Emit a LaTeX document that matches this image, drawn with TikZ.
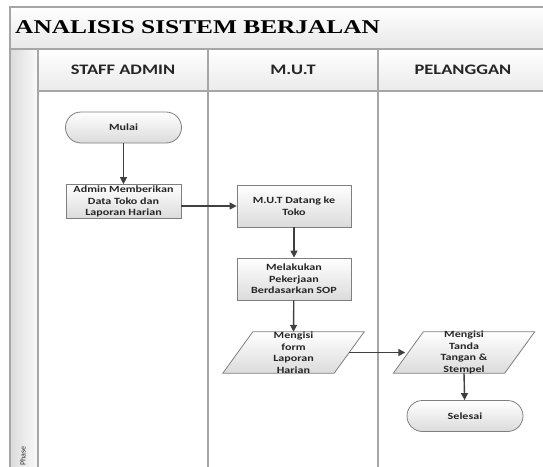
\documentclass[tikz,border=0pt]{standalone}
\usepackage{fontspec}
\newfontfamily\lanefont{Carlito}[FakeStretch=1.27]
\newfontfamily\titlefont{Liberation Serif}[FakeStretch=1.3]
\newfontfamily\phasefont{Carlito}
\usetikzlibrary{arrows.meta,calc}

\definecolor{frameline}{HTML}{A6A6A6}
\definecolor{shapeline}{HTML}{7F7F7F}
\definecolor{flowline}{HTML}{404040}

\tikzset{
  lanehead/.style={font=\lanefont\bfseries\fontsize{14.5}{16}\selectfont, text=black!85},
  boxfont/.style={font=\lanefont\bfseries\fontsize{9.5}{11.6}\selectfont, text=black!85, align=center},
  processbox/.style={boxfont, draw=shapeline, line width=0.8pt, top color=white, bottom color=black!14,
    minimum width=115pt, minimum height=34pt, inner sep=1pt},
  terminal/.style={boxfont, draw=shapeline, line width=0.8pt, top color=white, bottom color=black!14,
    rounded corners=15.5pt, minimum width=116pt, minimum height=31pt, inner sep=1pt},
  ioframe/.style={minimum width=111pt, minimum height=41pt, inner sep=0pt},
  iotext/.style={boxfont, inner sep=0pt},
  ioshape/.style={draw=shapeline, line width=0.8pt, top color=white, bottom color=black!14},
  flow/.style={draw=flowline, line width=1.4pt, -{Triangle[length=7pt,width=7pt]}},
  lanerule/.style={draw=frameline, line width=1.1pt},
}

\begin{document}
\begin{tikzpicture}[x=1pt,y=-1pt]
\useasboundingbox (0,0) rectangle (543,466);
\clip (0,0) rectangle (543,466);

% pool title band, lane header band and phase column
\shade[top color=white, bottom color=black!9] (10,7) rectangle (560,49);
\shade[top color=white, bottom color=black!8] (38,49) rectangle (560,91);
\shade[left color=black!14, right color=black!2] (10,49) rectangle (38,480);

% pool frame and lane dividers
\draw[lanerule] (10,480) -- (10,7) -- (560,7);
\draw[lanerule] (10,49) -- (560,49);
\draw[lanerule] (38,91) -- (560,91);
\draw[lanerule] (38,49) -- (38,480);
\draw[lanerule] (208,49) -- (208,480);
\draw[lanerule] (378,49) -- (378,480);

% titles
\node[anchor=base west, inner sep=0pt, font=\titlefont\bfseries\fontsize{19.5}{22}\selectfont]
  (title) at (15,33.5) {ANALISIS SISTEM BERJALAN};
\node[lanehead] (h1) at (123,70) {STAFF ADMIN};
\node[lanehead] (h2) at (293,70) {M.U.T};
\node[lanehead] (h3) at (463,70) {PELANGGAN};
\node[rotate=90, anchor=west, inner sep=0pt, font=\phasefont\fontsize{8}{9}\selectfont, text=black!80]
  (phase) at (23,466) {Phase};

% flow elements
\node[terminal] (mulai) at (123.5,127.5) {Mulai};
\node[processbox] (admin) at (123.5,201.5) {Admin Memberikan\\Data Toko dan\\Laporan Harian};
\node[processbox, minimum width=114pt, minimum height=42pt] (datang) at (294,206) {M.U.T Datang ke\\Toko};
\node[processbox, minimum width=114pt, minimum height=42pt] (sop) at (294,279) {Melakukan\\Pekerjaan\\Berdasarkan SOP};

\node[ioframe] (form) at (293.5,352.5) {};
\shadedraw[ioshape] ($(form.south west)+(-15,0)$) -- ($(form.north west)+(15,0)$)
  -- ($(form.north east)+(15,0)$) -- ($(form.south east)+(-15,0)$) -- cycle;
\node[iotext] (formtext) at (form) {Mengisi\\form\\Laporan\\Harian};

\node[ioframe] (ttd) at (464,352.5) {};
\shadedraw[ioshape] ($(ttd.south west)+(-15,0)$) -- ($(ttd.north west)+(15,0)$)
  -- ($(ttd.north east)+(15,0)$) -- ($(ttd.south east)+(-15,0)$) -- cycle;
\node[iotext] (ttdtext) at (ttd) {Mengisi\\Tanda\\Tangan \&\\Stempel};

\node[terminal] (selesai) at (465,416) {Selesai};

% connectors
\draw[flow] (mulai) -- (admin);
\draw[flow] (admin.east |- datang.west) -- (datang.west);
\draw[flow] (datang) -- (sop);
\draw[flow] (sop) -- (form.north);
\draw[flow] (form.east) -- ($(ttd.west)+(-3,0)$);
\draw[flow] (ttd.south) -- (selesai);
\end{tikzpicture}
\end{document}
